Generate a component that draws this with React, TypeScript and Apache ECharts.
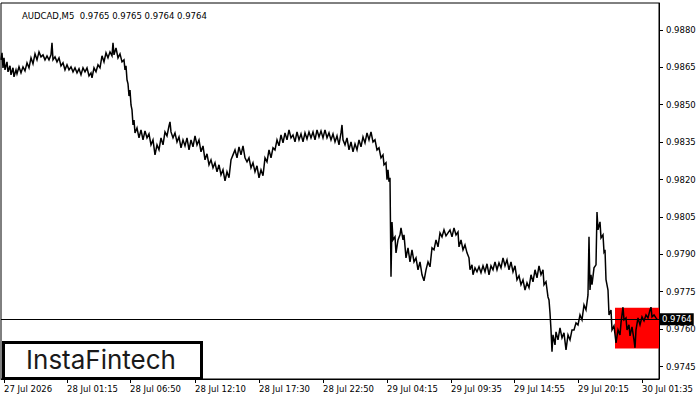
import React, { useEffect, useRef } from "react";
import * as echarts from "echarts";

const symbolName = "AUDCAD,M5";
const lastBarOHLC = [0.9765, 0.9765, 0.9764, 0.9764];
const lastPrice = 0.9764;

const priceTicks = [0.9745, 0.976, 0.9775, 0.979, 0.9805, 0.982, 0.9835, 0.985, 0.9865, 0.988];
const priceMin = 0.974;
const priceMax = 0.98908;

const firstBar = 1;
const lastBar = 659;
const timeTickBars = [4, 67, 130, 195, 259, 323, 387, 451, 514, 578, 642];
const timeTickLabels = [
  "27 Jul 2026",
  "28 Jul 01:15",
  "28 Jul 06:50",
  "28 Jul 12:10",
  "28 Jul 17:30",
  "28 Jul 22:50",
  "29 Jul 04:15",
  "29 Jul 09:35",
  "29 Jul 14:55",
  "29 Jul 20:15",
  "30 Jul 01:35",
];

const patternStartBar = 615;
const patternTop = 0.97686;
const patternBottom = 0.97522;

// [bar number, price] turning points of the M5 price trace
const pricePath: [number, number][] = [
  [1, 0.9868], [2, 0.98708], [3, 0.98648], [4, 0.98688], [5, 0.9864], [7, 0.98672], [8, 0.98632],
  [10, 0.98656], [11, 0.9862], [13, 0.98648], [14, 0.98612], [16, 0.9864], [17, 0.98624], [19, 0.98652],
  [21, 0.98628], [23, 0.98652], [25, 0.98636], [27, 0.98668], [29, 0.98648], [31, 0.98688], [33, 0.98664],
  [35, 0.98704], [37, 0.9868], [39, 0.98712], [41, 0.98692], [43, 0.987], [45, 0.9868], [47, 0.98696],
  [49, 0.9868], [51, 0.987], [52, 0.98748], [53, 0.9868], [55, 0.98692], [57, 0.98672], [59, 0.98688],
  [61, 0.98656], [63, 0.98668], [65, 0.9864], [67, 0.9866], [69, 0.9864], [71, 0.98652], [73, 0.98632],
  [75, 0.98648], [77, 0.98628], [79, 0.98644], [81, 0.9862], [83, 0.98648], [85, 0.98632], [87, 0.98648],
  [89, 0.98616], [91, 0.98628], [92, 0.98608], [94, 0.98648], [96, 0.98632], [98, 0.9866], [100, 0.98648],
  [102, 0.98696], [104, 0.98672], [106, 0.98708], [108, 0.98688], [110, 0.98712], [112, 0.98696],
  [113, 0.98748], [114, 0.987], [116, 0.98728], [118, 0.98688], [120, 0.98704], [122, 0.98672],
  [124, 0.9868], [125, 0.9864], [126, 0.98656], [127, 0.986], [128, 0.98584], [129, 0.98535],
  [130, 0.98559], [131, 0.98499], [132, 0.98479], [133, 0.98419], [134, 0.98439], [135, 0.98387],
  [137, 0.98407], [139, 0.98367], [141, 0.98399], [143, 0.98359], [145, 0.98395], [147, 0.98367],
  [149, 0.98383], [151, 0.98339], [153, 0.98359], [155, 0.98299], [157, 0.98339], [159, 0.98319],
  [161, 0.98367], [163, 0.98339], [165, 0.98391], [167, 0.98375], [169, 0.98415], [170, 0.98431],
  [171, 0.98391], [173, 0.98367], [175, 0.98387], [177, 0.98351], [179, 0.98371], [181, 0.98327],
  [183, 0.98359], [185, 0.98335], [187, 0.98367], [189, 0.98319], [191, 0.98359], [193, 0.98331],
  [195, 0.98375], [197, 0.98339], [199, 0.98359], [201, 0.98311], [203, 0.98335], [205, 0.98279],
  [207, 0.98303], [209, 0.98259], [211, 0.98279], [213, 0.98247], [215, 0.98267], [217, 0.98231],
  [219, 0.98259], [221, 0.98219], [223, 0.98239], [225, 0.98195], [227, 0.98231], [229, 0.98207],
  [231, 0.98279], [233, 0.98299], [235, 0.98319], [237, 0.98287], [239, 0.98331], [241, 0.98299],
  [243, 0.98335], [245, 0.98287], [247, 0.98271], [249, 0.98287], [251, 0.98247], [253, 0.98267],
  [255, 0.98231], [257, 0.98255], [259, 0.98207], [261, 0.98239], [263, 0.98215], [265, 0.98287],
  [267, 0.98271], [269, 0.98319], [271, 0.98287], [273, 0.98327], [275, 0.98319], [277, 0.98359],
  [279, 0.98335], [281, 0.98379], [283, 0.98347], [285, 0.98387], [287, 0.98359], [289, 0.98399],
  [291, 0.98367], [293, 0.98379], [295, 0.98351], [297, 0.98391], [299, 0.98359], [301, 0.98383],
  [303, 0.98351], [305, 0.98387], [307, 0.98363], [309, 0.98391], [311, 0.98367], [313, 0.98391],
  [315, 0.98359], [317, 0.98399], [319, 0.98371], [321, 0.98395], [323, 0.98367], [325, 0.98399],
  [327, 0.98367], [329, 0.98387], [331, 0.98359], [333, 0.98383], [335, 0.98351], [337, 0.98375],
  [339, 0.98339], [341, 0.98387], [342, 0.98419], [343, 0.98359], [345, 0.98339], [347, 0.98367],
  [349, 0.98319], [351, 0.98351], [353, 0.98311], [355, 0.98343], [357, 0.98319], [359, 0.98359],
  [361, 0.98331], [363, 0.98371], [365, 0.98347], [367, 0.98387], [369, 0.98359], [371, 0.98391],
  [373, 0.98351], [375, 0.98359], [377, 0.98319], [379, 0.98327], [381, 0.98287], [383, 0.98299],
  [384, 0.98259], [386, 0.98267], [387, 0.98199], [388, 0.98239], [389, 0.98191], [390, 0.98207],
  [391, 0.9781], [392, 0.9803], [393, 0.97958], [395, 0.9797], [396, 0.97906], [398, 0.97958],
  [400, 0.97978], [401, 0.98006], [403, 0.97958], [404, 0.97978], [406, 0.97886], [408, 0.97926],
  [410, 0.9787], [412, 0.97918], [414, 0.9787], [416, 0.97886], [418, 0.97838], [420, 0.9787],
  [422, 0.97818], [424, 0.97794], [426, 0.97838], [428, 0.9787], [430, 0.9785], [432, 0.97926],
  [434, 0.97918], [436, 0.97958], [438, 0.9793], [440, 0.97986], [442, 0.9797], [444, 0.97998],
  [446, 0.97974], [448, 0.97986], [450, 0.97998], [452, 0.9797], [454, 0.98006], [456, 0.97978],
  [458, 0.9799], [459, 0.9793], [461, 0.97958], [463, 0.97918], [465, 0.97938], [467, 0.97906],
  [469, 0.97886], [470, 0.97838], [472, 0.97858], [473, 0.97818], [475, 0.97846], [477, 0.9783],
  [479, 0.9785], [481, 0.97826], [483, 0.97854], [485, 0.9783], [487, 0.97862], [489, 0.97818],
  [491, 0.97854], [493, 0.97838], [495, 0.9787], [497, 0.97838], [499, 0.97866], [501, 0.97846],
  [503, 0.97886], [505, 0.97854], [507, 0.97878], [509, 0.97838], [511, 0.9787], [513, 0.9783],
  [515, 0.97854], [517, 0.97798], [519, 0.97814], [521, 0.97778], [523, 0.97798], [525, 0.97757],
  [527, 0.97786], [529, 0.97766], [531, 0.97818], [533, 0.9779], [535, 0.97838], [537, 0.97806],
  [539, 0.97854], [541, 0.97818], [543, 0.97838], [544, 0.97778], [546, 0.9779], [548, 0.97729],
  [549, 0.97717], [550, 0.97665], [551, 0.97597], [552, 0.97509], [553, 0.97577], [555, 0.97537],
  [556, 0.97589], [558, 0.97557], [560, 0.97605], [562, 0.97565], [564, 0.97585], [566, 0.97517],
  [568, 0.97577], [570, 0.97557], [572, 0.97597], [574, 0.97597], [576, 0.97625], [578, 0.97617],
  [580, 0.97657], [582, 0.97637], [584, 0.97697], [586, 0.97677], [588, 0.97737], [589, 0.9797],
  [590, 0.97757], [591, 0.97818], [592, 0.97778], [594, 0.97846], [596, 0.97858], [597, 0.9807],
  [598, 0.97998], [600, 0.9803], [601, 0.97966], [603, 0.97978], [604, 0.9791], [605, 0.97918],
  [606, 0.97798], [608, 0.97757], [609, 0.97657], [611, 0.97677], [612, 0.97597], [614, 0.97613],
  [616, 0.97545], [618, 0.97597], [620, 0.97577], [621, 0.97625], [622, 0.97657], [623, 0.97688],
  [624, 0.97637], [626, 0.97645], [627, 0.97597], [629, 0.97617], [630, 0.97573], [632, 0.97609],
  [634, 0.97557], [635, 0.97525], [636, 0.97597], [638, 0.97645], [640, 0.97617], [642, 0.97649],
  [644, 0.97633], [646, 0.97657], [648, 0.97645], [650, 0.97677], [651, 0.97688], [652, 0.97649],
  [654, 0.97657], [656, 0.97645], [657, 0.9764],
];

const FONT = "DejaVu Sans";

export default function App() {
  const ref = useRef<HTMLDivElement>(null);

  useEffect(() => {
    if (!ref.current) return;
    const chart = echarts.init(ref.current, null, { renderer: "svg" });
    const option: any = {
      animation: false,
      backgroundColor: "#ffffff",
      title: {
        text: `${symbolName}  ${lastBarOHLC.map((v) => v.toFixed(4)).join(" ")}`,
        left: 17,
        top: 6,
        textStyle: { fontSize: 8.5, fontFamily: FONT, fontWeight: "normal", color: "#000" },
      },
      grid: {
        left: 1,
        right: 41,
        top: 3,
        bottom: 21,
        show: true,
        borderColor: "#000",
        borderWidth: 1,
        backgroundColor: "#fff",
      },
      xAxis: {
        type: "value",
        min: firstBar,
        max: lastBar,
        axisLine: { show: true, onZero: false, lineStyle: { color: "#000", width: 1 } },
        axisTick: {
          show: true,
          customValues: timeTickBars,
          length: 4,
          lineStyle: { color: "#000", width: 1 },
        },
        axisLabel: {
          customValues: timeTickBars,
          formatter: (v: number) => {
            const i = timeTickBars.indexOf(v);
            return i >= 0 ? timeTickLabels[i] : "";
          },
          align: "left",
          margin: 5,
          color: "#000",
          fontSize: 8.5,
          fontFamily: FONT,
          hideOverlap: false,
        },
        splitLine: { show: false },
      },
      yAxis: {
        type: "value",
        position: "right",
        min: priceMin,
        max: priceMax,
        axisLine: { show: true, onZero: false, lineStyle: { color: "#000", width: 1 } },
        axisTick: {
          show: true,
          customValues: priceTicks,
          length: 4,
          lineStyle: { color: "#000", width: 1 },
        },
        axisLabel: {
          customValues: priceTicks,
          formatter: (v: number) => v.toFixed(4),
          margin: 7,
          color: "#000",
          fontSize: 8.5,
          fontFamily: FONT,
          hideOverlap: false,
        },
        splitLine: { show: false },
      },
      series: [
        {
          type: "line",
          name: "pattern",
          data: [],
          z: 1,
          silent: true,
          markArea: {
            silent: true,
            itemStyle: { color: "#ff0000", opacity: 1 },
            data: [[{ xAxis: patternStartBar, yAxis: patternTop }, { xAxis: lastBar, yAxis: patternBottom }]],
          },
        },
        {
          type: "line",
          name: "AUDCAD",
          data: pricePath,
          z: 3,
          showSymbol: false,
          symbol: "none",
          silent: true,
          lineStyle: { color: "#000", width: 1.5, join: "miter" },
          markLine: {
            silent: true,
            precision: 5,
            symbol: ["none", "none"],
            lineStyle: { color: "#000", width: 1, type: "solid" },
            label: {
              show: true,
              position: "end",
              formatter: () => lastPrice.toFixed(4),
              backgroundColor: "#000",
              color: "#fff",
              padding: [2, 2, 1, 2],
              distance: 1,
              fontSize: 8.5,
              fontFamily: FONT,
            },
            data: [{ yAxis: lastPrice }],
          },
        },
      ],
      graphic: [
        {
          type: "rect",
          z: 100,
          shape: { x: 3.5, y: 342.5, width: 198, height: 36 },
          style: { fill: "#fff", stroke: "#000", lineWidth: 3 },
        },
        {
          type: "text",
          z: 101,
          x: 101,
          y: 359,
          style: {
            text: "InstaFintech",
            font: "400 26px Inter",
            fill: "#1a1a1a",
            align: "center",
            verticalAlign: "middle",
          },
        },
      ],
    };
    chart.setOption(option);
    return () => chart.dispose();
  }, []);

  return (
    <div
      ref={ref}
      style={{ position: "fixed", left: 0, top: 0, width: 700, height: 400, background: "#fff" }}
    />
  );
}
